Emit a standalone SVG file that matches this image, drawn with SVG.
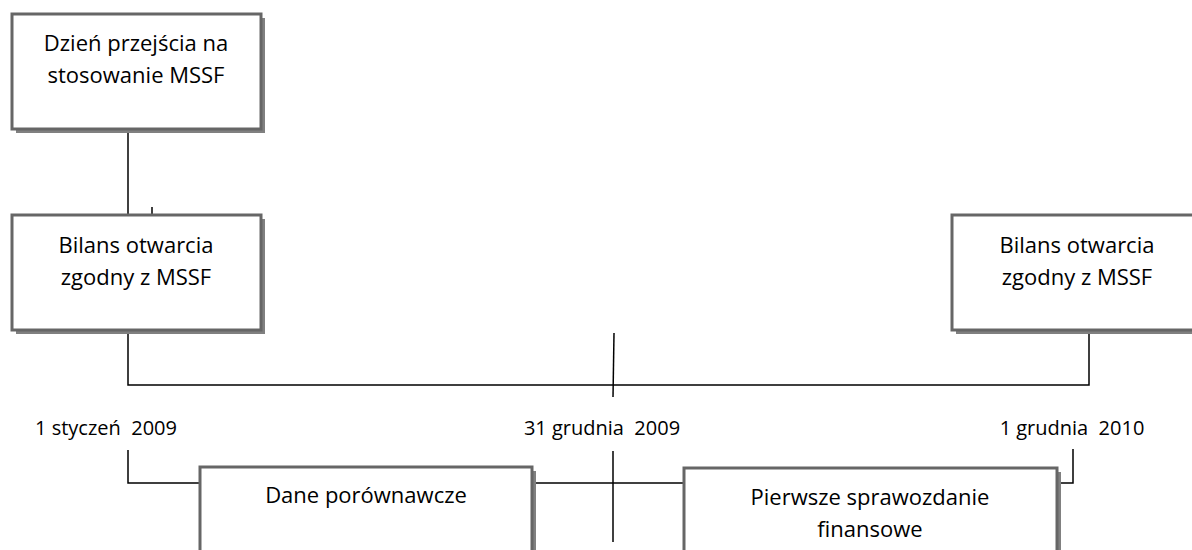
<svg xmlns="http://www.w3.org/2000/svg" width="1192" height="550" viewBox="0 0 1192 550">
<style>
.sh{fill:#808080}
.bx{fill:#fff;stroke:#666;stroke-width:3}
.t{font-family:"Open Sans","Liberation Sans",sans-serif;font-size:22px;fill:#000;text-anchor:middle}
.d{font-family:"Open Sans","Liberation Sans",sans-serif;font-size:20px;fill:#000;text-anchor:middle;white-space:pre}
.c{stroke:#000;stroke-width:1.5;fill:none}
</style>
<rect width="1192" height="550" fill="#fff"/>
<g id="connectors">
<line class="c" x1="128" y1="130" x2="128" y2="216"/>
<line class="c" x1="152" y1="207" x2="152" y2="214"/>
<polyline class="c" points="128,331 128,385 1089,385 1089,331"/>
<line class="c" x1="614" y1="333" x2="613" y2="397"/>
<polyline class="c" points="128,450 128,483 201,483"/>
<line class="c" x1="533" y1="483" x2="684" y2="483"/>
<line class="c" x1="613" y1="451" x2="613" y2="542"/>
<polyline class="c" points="1058,483 1073,483 1073,449"/>
</g>
<g id="n1">
<rect class="sh" x="16" y="18" width="249" height="115"/>
<rect class="bx" x="12" y="14" width="249" height="115"/>
<text class="t" x="136" y="51">Dzień przejścia na</text>
<text class="t" x="136" y="83">stosowanie MSSF</text>
</g>
<g id="n2">
<rect class="sh" x="16" y="219" width="249" height="115"/>
<rect class="bx" x="12" y="215" width="249" height="115"/>
<text class="t" x="136" y="253">Bilans otwarcia</text>
<text class="t" x="136" y="285">zgodny z MSSF</text>
</g>
<g id="n3">
<rect class="sh" x="956" y="219" width="249" height="115"/>
<rect class="bx" x="952" y="215" width="249" height="115"/>
<text class="t" x="1077" y="253">Bilans otwarcia</text>
<text class="t" x="1077" y="285">zgodny z MSSF</text>
</g>
<g id="l1"><text class="d" x="106" y="435" xml:space="preserve">1 styczeń  2009</text></g>
<g id="l2"><text class="d" x="602" y="435" xml:space="preserve">31 grudnia  2009</text></g>
<g id="l3"><text class="d" x="1072" y="435" xml:space="preserve">1 grudnia  2010</text></g>
<g id="n4">
<rect class="sh" x="204" y="471" width="332" height="90"/>
<rect class="bx" x="200" y="467" width="332" height="90"/>
<text class="t" x="366" y="503">Dane porównawcze</text>
</g>
<g id="n5">
<rect class="sh" x="688" y="472" width="373" height="90"/>
<rect class="bx" x="684" y="468" width="373" height="90"/>
<text class="t" x="870" y="505">Pierwsze sprawozdanie</text>
<text class="t" x="870" y="537">finansowe</text>
</g>
</svg>
